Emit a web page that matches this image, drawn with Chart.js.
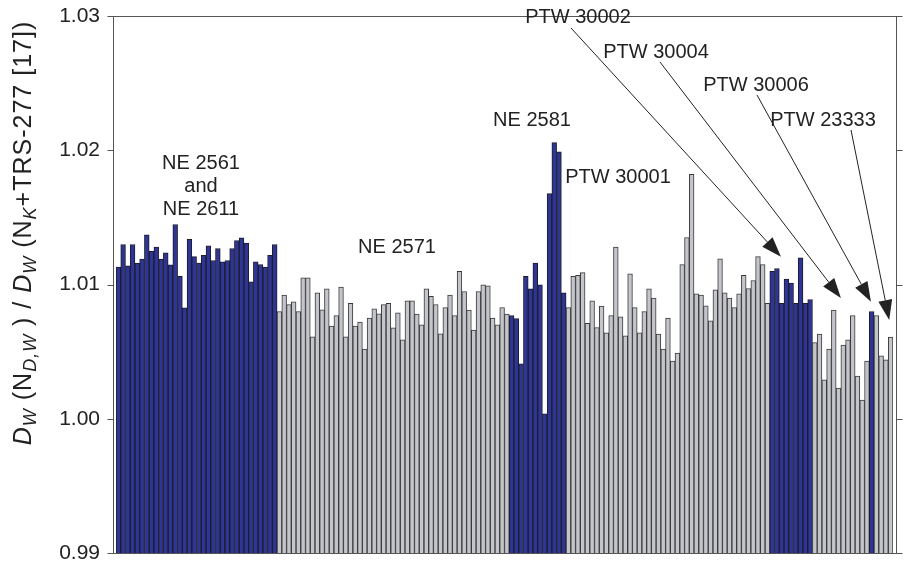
<!DOCTYPE html>
<html>
<head>
<meta charset="utf-8">
<script src="https://cdn.jsdelivr.net/npm/chart.js@4.4.0/dist/chart.umd.min.js"></script>
<style>
  html, body { margin: 0; padding: 0; background: #fff; }
</style>
</head>
<body>
<canvas id="chartCamaras" width="904" height="565" style="width:904px;height:565px"></canvas>
<script>
// valores (D_w ratio)
const ne2561Values = [1.01129, 1.01298, 1.01139, 1.01298, 1.01159, 1.01189, 1.01370, 1.01248, 1.01278, 1.01189,
  1.01236, 1.01146, 1.01447, 1.01060, 1.00826, 1.01337, 1.01208, 1.01159, 1.01218, 1.01288,
  1.01179, 1.01268, 1.01169, 1.01179, 1.01268, 1.01328, 1.01347, 1.01308, 1.01020, 1.01169,
  1.01149, 1.01129, 1.01218, 1.01298];
const ne2571Values = [1.00799, 1.00921, 1.00851, 1.00871, 1.00799, 1.01050, 1.01050, 1.00610, 1.00938, 1.00811,
  1.00968, 1.00690, 1.00769, 1.00980, 1.00610, 1.00859, 1.00690, 1.00720, 1.00519, 1.00749,
  1.00819, 1.00782, 1.00851, 1.00859, 1.00677, 1.00789, 1.00588, 1.00878, 1.00878, 1.00779,
  1.00700, 1.00968, 1.00911, 1.00851, 1.00633, 1.00829, 1.00921, 1.00769, 1.01099, 1.00948,
  1.00809, 1.00660, 1.00948, 1.00998, 1.00990, 1.00749, 1.00700, 1.00829, 1.00779];
const ne2581Values = [1.00769, 1.00747, 1.00409, 1.01060, 1.00968, 1.01159, 1.00998, 1.00037, 1.01677, 1.02057,
  1.01988, 1.00938];
const ptw30001Values = [1.00829, 1.01060, 1.01069, 1.01089, 1.00710, 1.00878, 1.00680, 1.00839, 1.00640, 1.00769,
  1.01278, 1.00759, 1.00618, 1.01079, 1.00829, 1.00640, 1.00799, 1.00968, 1.00898, 1.00630,
  1.00519, 1.00749, 1.00429, 1.00489, 1.01149, 1.01350, 1.01821, 1.00931, 1.00921, 1.00841,
  1.00730, 1.00960, 1.01191, 1.00938, 1.00898, 1.00829, 1.00931, 1.01069, 1.00970, 1.01030,
  1.01208, 1.01149, 1.00859];
const ptw30002Values = [1.01099, 1.01119, 1.00859, 1.01040, 1.01010, 1.00859, 1.01199, 1.00859, 1.00888];
const ptw30004Values = [1.00568, 1.00630, 1.00290, 1.00519, 1.00809, 1.00228, 1.00548, 1.00588, 1.00769, 1.00318,
  1.00139, 1.00429];
const ptw30006Values = [1.00799];
const ptw23333Values = [1.00769, 1.00469, 1.00439, 1.00608];

const yTicks = [0.99, 1.00, 1.01, 1.02, 1.03];

const groupValues = [ne2561Values, ne2571Values, ne2581Values, ptw30001Values,
  ptw30002Values, ptw30004Values, ptw30006Values, ptw23333Values];

const AZUL = '#2e3592';
const GRIS = '#c3c5cb';

const values = [];
const fills = [];
const borders = [];
groupValues.forEach((g, gi) => {
  g.forEach(v => {
    values.push(v);
    fills.push(gi % 2 === 0 ? AZUL : GRIS);
    borders.push(gi % 2 === 0 ? '#1c1c2c' : '#3a3a3a');
  });
});
const labels = values.map((_, i) => String(i + 1));

// etiquetas de texto (posicion en pixeles) y flechas que apuntan a la barra
const textos = [
  { lines: ['NE 2561', 'and', 'NE 2611'], x: 201, y: 163 },
  { lines: ['NE 2571'], x: 397, y: 247 },
  { lines: ['NE 2581'], x: 532, y: 120 },
  { lines: ['PTW 30001'], x: 618, y: 177 }
];
const flechas = [
  { text: 'PTW 30002', x: 578, y: 17, from: [571, 28], index: 139.85, value: 1.01206 },
  { text: 'PTW 30004', x: 656, y: 52, from: [660, 62], index: 152.5, value: 1.00899 },
  { text: 'PTW 30006', x: 756, y: 85, from: [757, 95], index: 158.85, value: 1.00871 },
  { text: 'PTW 23333', x: 823, y: 120, from: [851, 130], index: 162.7, value: 1.00735 }
];

const FAMILIA = '"Liberation Sans", Arial, sans-serif';
const FONT = '20px ' + FAMILIA;

const marcoPlugin = {
  id: 'marco',
  afterDatasetsDraw(chart) {
    const { ctx, chartArea: a, scales } = chart;
    const left = Math.round(a.left) - 2.5;
    const right = Math.round(a.right) + 3.5;
    const top = Math.round(a.top) + 0.5;
    const bottom = Math.round(a.bottom) + 0.5;
    ctx.save();
    ctx.strokeStyle = '#555';
    ctx.lineWidth = 1;
    ctx.strokeRect(left, top, right - left, bottom - top);
    ctx.beginPath();
    yTicks.forEach(t => {
      const y = Math.round(scales.y.getPixelForValue(t)) + 0.5;
      ctx.moveTo(left - 6, y); ctx.lineTo(left, y);
      ctx.moveTo(right, y); ctx.lineTo(right + 6, y);
    });
    ctx.stroke();
    ctx.restore();
  }
};

const anotacionesPlugin = {
  id: 'anotaciones',
  afterDraw(chart) {
    const { ctx, scales } = chart;
    const x0 = scales.x.getPixelForValue(0);
    const bw = scales.x.getPixelForValue(1) - x0;
    ctx.save();
    ctx.fillStyle = '#222';
    ctx.font = FONT;
    ctx.textAlign = 'center';
    ctx.textBaseline = 'middle';
    textos.forEach(t => {
      t.lines.forEach((l, i) => ctx.fillText(l, t.x, t.y + i * 23));
    });
    flechas.forEach(f => {
      ctx.fillText(f.text, f.x, f.y);
      const tx = x0 + f.index * bw;
      const ty = scales.y.getPixelForValue(f.value);
      const [sx, sy] = f.from;
      const ang = Math.atan2(ty - sy, tx - sx);
      const len = 20, half = 7;
      const bx = tx - len * Math.cos(ang);
      const by = ty - len * Math.sin(ang);
      ctx.strokeStyle = '#222';
      ctx.lineWidth = 1;
      ctx.beginPath();
      ctx.moveTo(sx, sy);
      ctx.lineTo(bx, by);
      ctx.stroke();
      ctx.beginPath();
      ctx.moveTo(tx, ty);
      ctx.lineTo(bx + half * Math.sin(ang), by - half * Math.cos(ang));
      ctx.lineTo(bx - half * Math.sin(ang), by + half * Math.cos(ang));
      ctx.closePath();
      ctx.fill();
    });

    // titulo del eje Y con subindices
    const partes = [
      { t: 'D', it: true }, { t: 'W', it: true, sub: true },
      { t: ' (N', it: false }, { t: 'D,W', it: true, sub: true },
      { t: ' ) / ', it: false }, { t: 'D', it: true }, { t: 'W', it: true, sub: true },
      { t: ' (N', it: false }, { t: 'K', it: true, sub: true },
      { t: '+TRS-277 [17])', it: false }
    ];
    const fuente = p => (p.it ? 'italic ' : '') + (p.sub ? '18px ' : '25px ') + FAMILIA;
    ctx.letterSpacing = '1px';
    let total = 0;
    partes.forEach(p => { ctx.font = fuente(p); p.w = ctx.measureText(p.t).width; total += p.w; });
    ctx.translate(31, 233);
    ctx.rotate(-Math.PI / 2);
    ctx.textAlign = 'left';
    ctx.textBaseline = 'alphabetic';
    let cx = -total / 2;
    partes.forEach(p => {
      ctx.font = fuente(p);
      ctx.fillText(p.t, cx, p.sub ? 5 : 0);
      cx += p.w;
    });
    ctx.restore();
  }
};

new Chart(document.getElementById('chartCamaras'), {
  type: 'bar',
  data: {
    labels: labels,
    datasets: [{
      data: values,
      backgroundColor: fills,
      borderColor: borders,
      borderWidth: 1,
      barPercentage: 1,
      categoryPercentage: 1
    }]
  },
  options: {
    responsive: false,
    animation: false,
    layout: { padding: { left: 0, right: 11, top: 16, bottom: 12 } },
    plugins: { legend: { display: false }, tooltip: { enabled: false } },
    scales: {
      x: { display: false },
      y: {
        min: 0.99,
        max: 1.03,
        afterBuildTicks: s => { s.ticks = yTicks.map(v => ({ value: v })); },
        afterFit: s => { s.width = 116; },
        // las marcas se dibujan en el plugin; aqui solo reservan espacio
        grid: { display: true, drawOnChartArea: false, drawTicks: true, tickLength: 16, color: 'rgba(0,0,0,0)' },
        border: { display: false },
        ticks: {
          padding: 0,
          color: '#222',
          font: { family: FAMILIA, size: 21, lineHeight: 1 },
          callback: v => v.toFixed(2)
        }
      }
    }
  },
  plugins: [marcoPlugin, anotacionesPlugin]
});
</script>
</body>
</html>
